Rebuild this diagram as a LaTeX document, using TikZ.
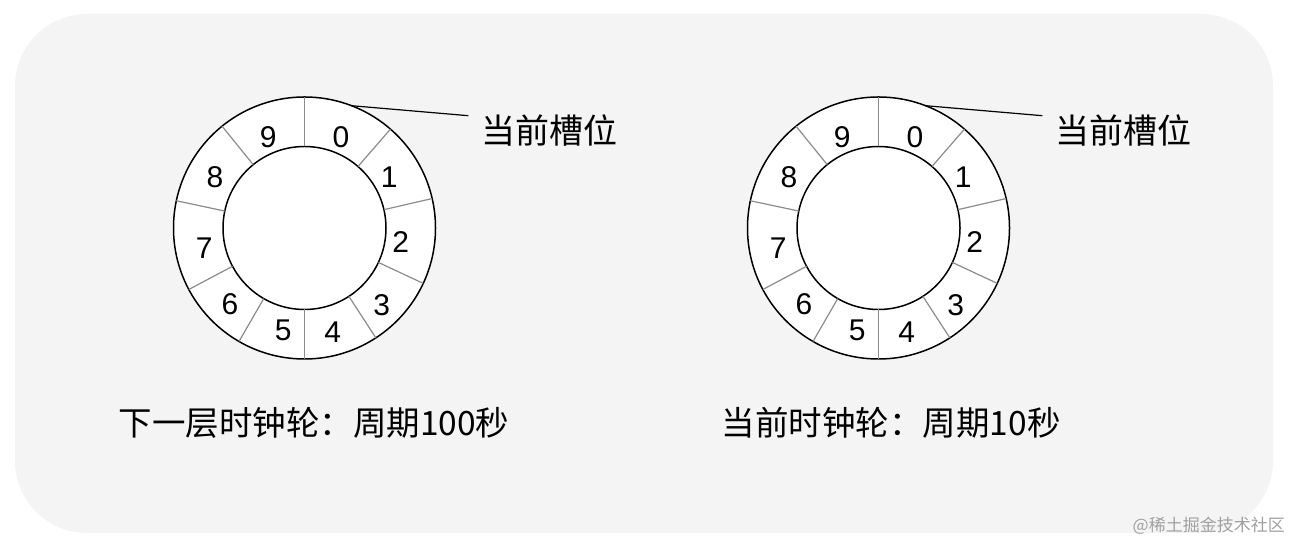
\documentclass[tikz,border=0pt]{standalone}
\usepackage{fontspec}
\setmainfont{Liberation Sans}
\newfontfamily\cjk{Noto Sans CJK SC}
\usetikzlibrary{calc}
\definecolor{panelbg}{HTML}{F4F4F4}
\definecolor{divgray}{HTML}{8C8C8C}
\definecolor{markgray}{HTML}{A0A0A0}
\tikzset{
  ring/.style={circle,draw=black,fill=white,line width=1.5pt,minimum size=262pt,inner sep=0pt,outer sep=0pt},
  hub/.style={circle,draw=black,fill=white,line width=1.5pt,minimum size=163pt,inner sep=0pt,outer sep=0pt},
  divider/.style={draw=divgray,line width=1.2pt},
  digit/.style={inner sep=0pt,font=\fontsize{30}{32}\selectfont},
  slotlabel/.style={inner sep=0pt,anchor=west,font=\cjk\fontsize{34}{36}\selectfont},
  caption/.style={inner sep=0pt,anchor=west,font=\cjk\fontsize{33.5}{36}\selectfont},
  leader/.style={draw=black,line width=1.2pt},
  watermark/.style={inner sep=0pt,anchor=east,text=markgray,font=\cjk\fontsize{17}{19}\selectfont}
}
\begin{document}
\begin{tikzpicture}[x=1pt,y=1pt]
\useasboundingbox (0,0) rectangle (1303,553);
\fill[panelbg,rounded corners=72pt] (15,20) rectangle (1273,539);
\foreach \w/\cx in {L/304.5,R/878.5}{
  \node[ring] (\w-out) at (\cx,325) {};
  \node[hub] (\w-in) at (\cx,325) {};
  \foreach \a in {90,49,13,-25,-57,-90,-120,-152,168,129}
    \draw[divider] (\w-in.\a) -- (\w-out.\a);
  \foreach \n/\dx/\dy in {0/36.5/91.3,1/84.8/51.3,2/96.2/-13.7,3/77.2/-77,4/28.2/-104.3,5/-21.2/-102,6/-74.5/-76,7/-100.2/-20.3,8/-89.5/51.3,9/-36.2/91.3}
    \node[digit] (\w-d\n) at (\cx+\dx,325+\dy) {\n};
  \node[slotlabel] (\w-lab) at (\cx+176.5,422) {当前槽位};
  \coordinate (\w-end) at ($(\w-lab.west)+(-12.7,15.3)$);
  \draw[leader] (\w-out.69) -- (\w-end);
}
\node[caption] (capL) at (118.3,130) {下一层时钟轮：周期100秒};
\node[caption] (capR) at (721.7,130) {当前时钟轮：周期10秒};
\node[watermark] (mark) at (1285,27.5) {@稀土掘金技术社区};
\end{tikzpicture}
\end{document}
